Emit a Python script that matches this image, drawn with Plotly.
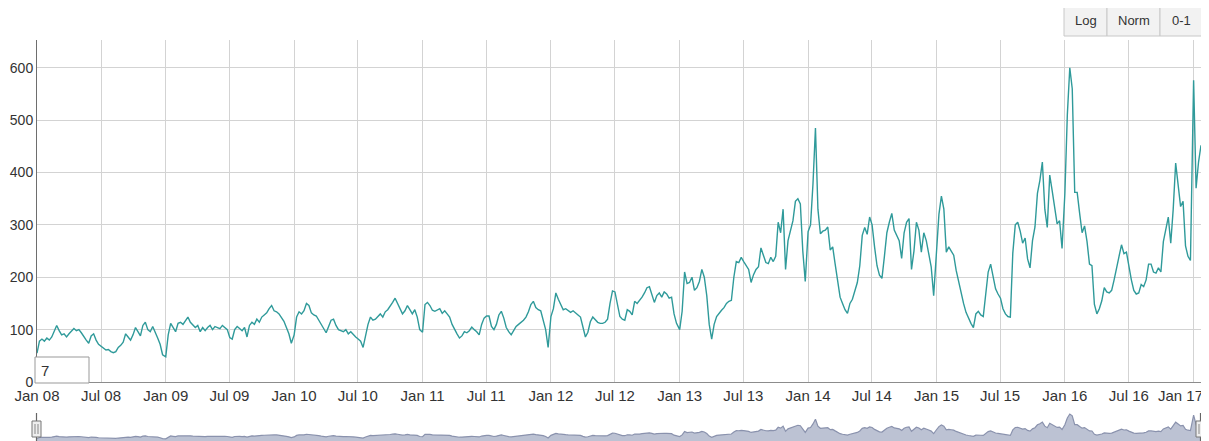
import pandas as pd
import plotly.graph_objects as go

# ---- data: weekly values (7-day rolling) ----
v2008 = [55, 78, 82, 78, 84, 80, 86, 98, 108, 98, 90, 92, 86, 92, 98, 102, 98, 100, 94, 86,
         80, 74, 88, 92, 80, 72, 68, 64, 61, 62, 58, 56, 58, 66, 70, 76, 92, 86, 80, 90,
         104, 96, 88, 108, 114, 100, 96, 106, 96, 84, 72, 52]
v2009 = [48, 90, 112, 104, 96, 112, 114, 110, 118, 124, 114, 108, 104, 108, 96, 104, 98, 104, 108, 100,
         106, 104, 102, 108, 104, 100, 85, 82, 100, 106, 102, 98, 104, 86, 108, 114, 110, 120, 114, 124,
         128, 132, 140, 146, 136, 134, 130, 124, 116, 104, 92, 74]
v2010 = [90, 124, 134, 130, 136, 150, 146, 132, 128, 126, 118, 108, 100, 94, 106, 118, 120, 108, 100, 98,
         96, 100, 92, 96, 90, 86, 82, 78, 66, 90, 110, 124, 118, 120, 126, 130, 124, 134, 138, 144,
         152, 160, 150, 138, 130, 136, 146, 138, 130, 138, 124, 100]
v2011 = [95, 148, 152, 146, 137, 135, 138, 140, 131, 136, 130, 124, 110, 100, 92, 84, 88, 96, 94, 98,
         105, 100, 96, 90, 110, 122, 126, 126, 106, 100, 110, 128, 135, 122, 104, 96, 90, 98, 106, 110,
         114, 118, 124, 134, 148, 154, 142, 138, 136, 120, 100, 66]
v2012 = [125, 140, 170, 158, 148, 138, 140, 136, 133, 136, 131, 128, 124, 104, 86, 95, 115, 124, 118, 114,
         112, 112, 114, 120, 150, 174, 172, 150, 125, 120, 118, 138, 135, 128, 154, 150, 155, 162, 170, 180,
         182, 168, 152, 165, 170, 162, 172, 168, 160, 162, 130, 112]
v2013 = [100, 135, 210, 188, 190, 200, 175, 180, 192, 215, 200, 165, 110, 82, 110, 125, 132, 137, 142, 150,
         154, 156, 200, 230, 228, 238, 230, 222, 215, 190, 205, 215, 220, 256, 240, 228, 226, 238, 230, 240,
         305, 285, 330, 215, 270, 290, 308, 345, 350, 340, 250, 192]
v2014 = [287, 300, 379, 485, 330, 283, 288, 290, 296, 252, 258, 225, 190, 162, 150, 138, 131, 150, 158, 172,
         190, 222, 280, 295, 282, 315, 300, 258, 222, 204, 198, 240, 285, 305, 322, 290, 280, 270, 236, 285,
         305, 312, 215, 250, 305, 290, 248, 285, 270, 245, 220, 165]
v2015 = [250, 320, 355, 330, 248, 258, 250, 242, 213, 190, 170, 150, 133, 122, 112, 104, 130, 135, 128, 125,
         175, 210, 225, 198, 178, 168, 160, 140, 130, 125, 124, 246, 300, 305, 288, 265, 275, 235, 218, 270,
         296, 360, 385, 420, 330, 295, 395, 365, 335, 302, 308, 255]
v2016 = [360, 510, 600, 560, 362, 362, 322, 285, 298, 268, 225, 222, 148, 130, 140, 155, 180, 172, 170, 175,
         195, 220, 240, 262, 245, 248, 220, 195, 175, 168, 170, 186, 182, 195, 225, 225, 210, 208, 218, 210,
         268, 290, 315, 265, 330, 418, 378, 335, 345, 260, 240, 232]
v2017 = [576, 370, 420, 452]

tick_dates = ["2008-01-01", "2008-07-01", "2009-01-01", "2009-07-01", "2010-01-01", "2010-07-01",
              "2011-01-01", "2011-07-01", "2012-01-01", "2012-07-01", "2013-01-01", "2013-07-01",
              "2014-01-01", "2014-07-01", "2015-01-01", "2015-07-01", "2016-01-01", "2016-07-01",
              "2017-01-01"]
tick_labels = ["Jan 08", "Jul 08", "Jan 09", "Jul 09", "Jan 10", "Jul 10", "Jan 11", "Jul 11",
               "Jan 12", "Jul 12", "Jan 13", "Jul 13", "Jan 14", "Jul 14", "Jan 15", "Jul 15",
               "Jan 16", "Jul 16", "Jan 17"]
y_ticks = [0, 100, 200, 300, 400, 500, 600]
button_labels = ["Log", "Norm", "0-1"]
roll_period = "7"

dates, values = [], []
for year, vals in [(2008, v2008), (2009, v2009), (2010, v2010), (2011, v2011), (2012, v2012),
                   (2013, v2013), (2014, v2014), (2015, v2015), (2016, v2016), (2017, v2017)]:
    dates += list(pd.date_range(f"{year}-01-01", periods=len(vals), freq="7D"))
    values += vals

# ---- layout geometry (window pixels; the page body has an 8px margin) ----
OFF = 8
WIN_W, WIN_H = 1209, 441
W, H = WIN_W - OFF, WIN_H - OFF
L, T, B = 37 - OFF, 40 - OFF, 0
R = W - (1201 - OFF)
PW, PH = W - L - R, H - T - B


def px_x(px):
    """window x pixel -> paper x"""
    return (px - OFF - L) / PW


def px_y(py):
    """window y pixel -> paper y"""
    return (H - B - (py - OFF)) / PH


FONT = "Liberation Sans, Arial, sans-serif"
TXT = "#333333"
x_range = [dates[0], dates[-1]]

fig = go.Figure()
fig.add_trace(go.Scatter(x=dates, y=values, mode="lines",
                         line=dict(color="#2f9a9a", width=1.4),
                         xaxis="x", yaxis="y", hoverinfo="x+y"))
fig.add_trace(go.Scatter(x=dates, y=values, mode="lines", fill="tozeroy",
                         line=dict(color="#8a92ad", width=1.2), fillcolor="#bcc2d3",
                         xaxis="x2", yaxis="y2", hoverinfo="skip"))

shapes = []
annotations = []

# range-selector handles
for hx in (36.5, 1200.5):
    shapes.append(dict(type="line", xref="paper", yref="paper",
                       x0=px_x(hx), x1=px_x(hx), y0=px_y(441), y1=px_y(413),
                       line=dict(color="#666666", width=1.2)))
    shapes.append(dict(type="rect", xref="paper", yref="paper",
                       x0=px_x(hx - 4.5), x1=px_x(hx + 4.5), y0=px_y(437), y1=px_y(421),
                       fillcolor="#eeeeee", line=dict(color="#777777", width=1)))
    for gx in (hx - 1.5, hx + 1.5):
        shapes.append(dict(type="line", xref="paper", yref="paper",
                           x0=px_x(gx), x1=px_x(gx), y0=px_y(434), y1=px_y(424),
                           line=dict(color="#888888", width=1)))

# roll-period box
shapes.append(dict(type="rect", xref="paper", yref="paper",
                   x0=px_x(35), x1=px_x(89), y0=px_y(383), y1=px_y(357),
                   fillcolor="white", line=dict(color="#999999", width=1), layer="above"))
annotations.append(dict(text=roll_period, xref="paper", yref="paper", x=px_x(39), y=px_y(370),
                        xanchor="left", yanchor="middle", showarrow=False,
                        font=dict(family=FONT, size=15, color=TXT)))

# buttons Log / Norm / 0-1
edges = [1064, 1107, 1160, 1203]
for i, lab in enumerate(button_labels):
    shapes.append(dict(type="rect", xref="paper", yref="paper",
                       x0=px_x(edges[i]), x1=px_x(edges[i + 1]), y0=px_y(36), y1=px_y(5),
                       fillcolor="#f2f2f2", line=dict(color="#c8c8c8", width=1)))
    annotations.append(dict(text=lab, xref="paper", yref="paper",
                            x=px_x((edges[i] + edges[i + 1]) / 2), y=px_y(20.5),
                            xanchor="center", yanchor="middle", showarrow=False,
                            font=dict(family=FONT, size=13, color=TXT)))

# last x label shifted left so it fits (as the original does)
annotations.append(dict(text=tick_labels[-1], xref="paper", yref="paper",
                        x=px_x(1205), y=px_y(385), xanchor="right", yanchor="top",
                        showarrow=False, font=dict(family=FONT, size=15, color=TXT)))

axis_common = dict(automargin=False, zeroline=False, ticks="")
fig.update_layout(
    template="none",
    width=W, height=H,
    margin=dict(l=L, r=R, t=T, b=B, pad=0),
    paper_bgcolor="white", plot_bgcolor="white",
    showlegend=False,
    font=dict(family=FONT, size=15, color=TXT),
    xaxis=dict(domain=[0, 1], anchor="y", type="date", range=x_range,
               tickvals=tick_dates, ticktext=tick_labels[:-1] + [""],
               showgrid=True, gridcolor="#d3d3d3", gridwidth=1,
               showline=True, linecolor="#8c8c8c", linewidth=1,
               tickfont=dict(size=15, color=TXT), **axis_common),
    yaxis=dict(domain=[px_y(382), 1], anchor="x", range=[0, 653],
               tickvals=y_ticks, showgrid=True, gridcolor="#d3d3d3", gridwidth=1,
               showline=True, linecolor="#6e6e6e", linewidth=1, ticklabelstandoff=0,
               tickfont=dict(size=14, color=TXT), **axis_common),
    xaxis2=dict(domain=[0, 1], anchor="y2", type="date", range=x_range,
                showgrid=False, showticklabels=False, showline=False, **axis_common),
    yaxis2=dict(domain=[0, px_y(405)], anchor="x2", range=[0, 800],
                showgrid=False, showticklabels=False, showline=False, **axis_common),
    shapes=shapes,
    annotations=annotations,
)

fig.write_html("out.html")
